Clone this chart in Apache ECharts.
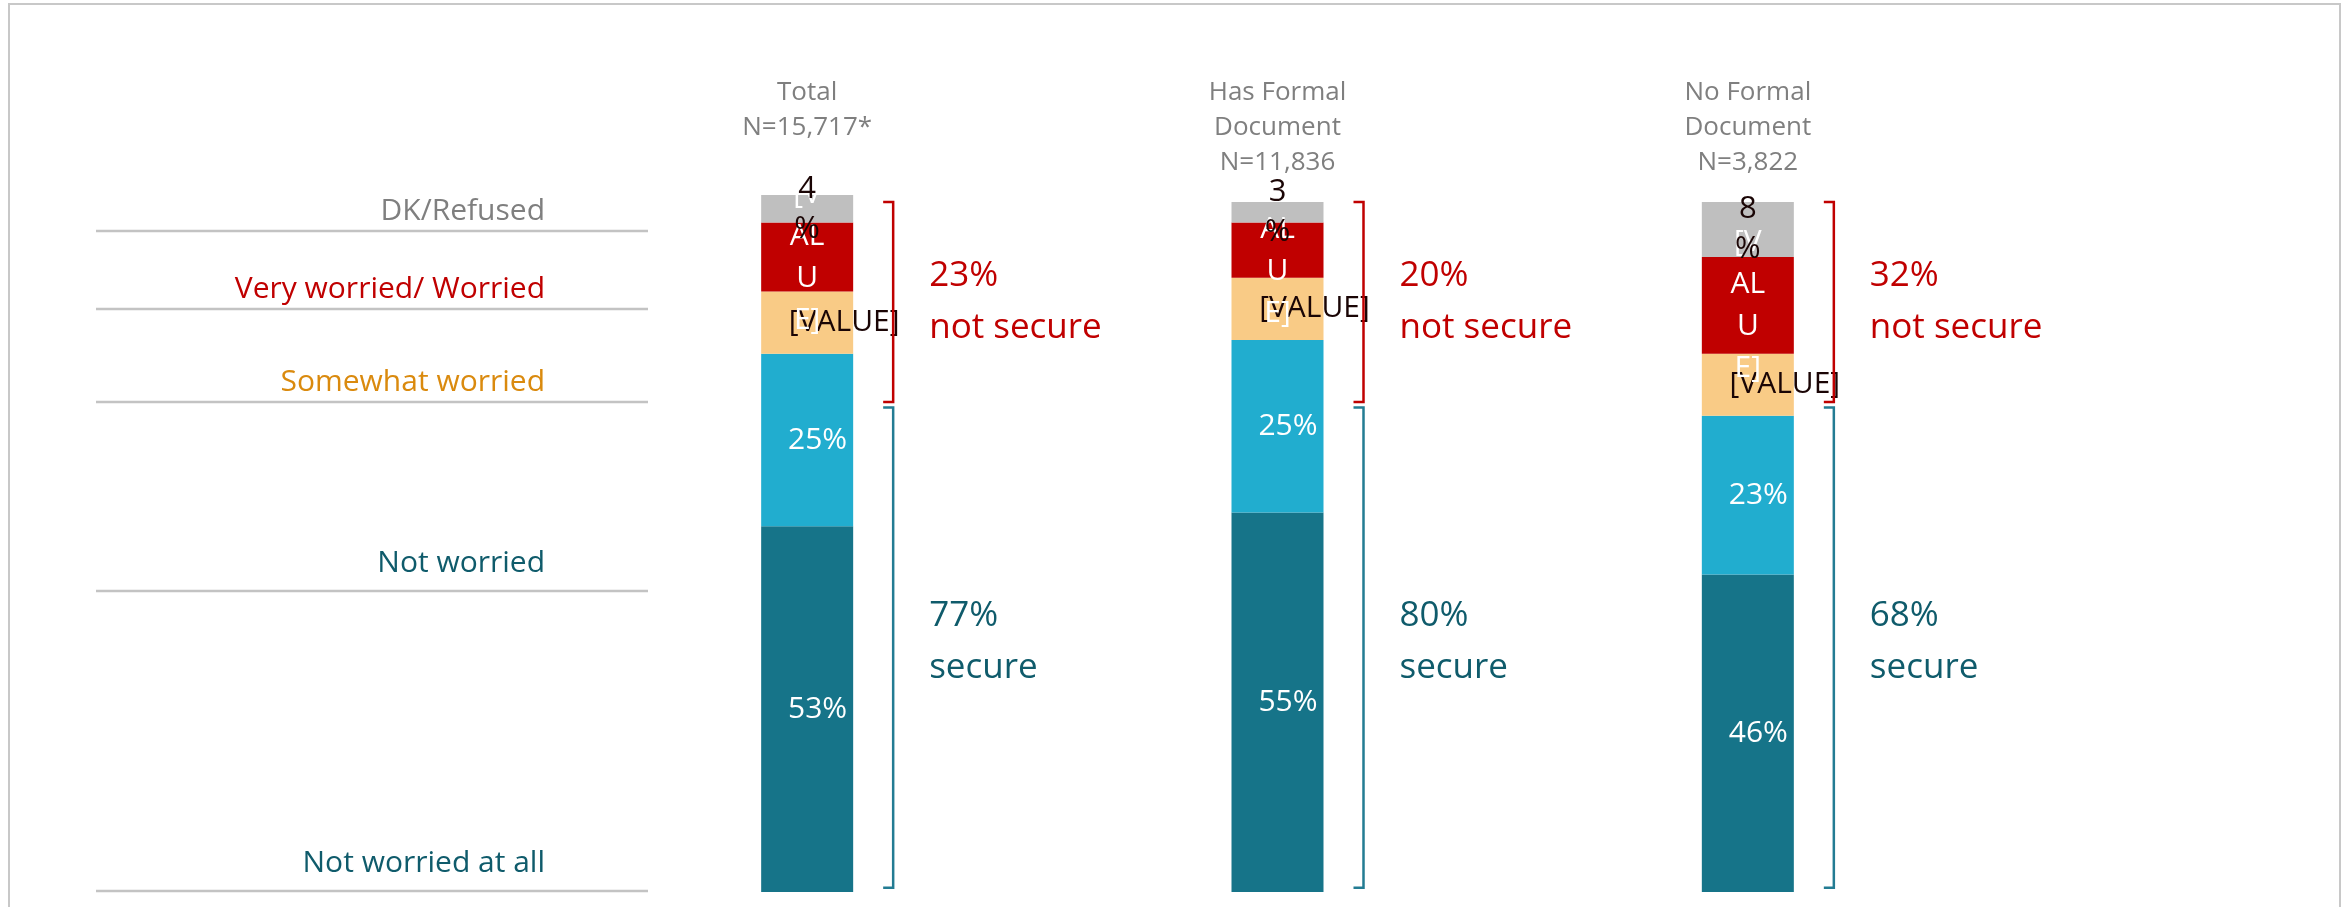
<!DOCTYPE html>
<html>
<head>
<meta charset="utf-8">
<script src="https://cdn.jsdelivr.net/npm/echarts@6/dist/echarts.min.js"></script>
<style>
    html, body { margin: 0; padding: 0; background: #fff; }
    #chart { width: 2347px; height: 907px; }
</style>
</head>
<body>
<div id="chart"></div>
<script>
    // groups (top labels)
    const categories = ['Total\nN=15,717*', 'Has Formal\nDocument\nN=11,836', 'No Formal\nDocument\nN=3,822'];
    // stacked from the bottom up
    const seriesNames = ['Not worried at all', 'Not worried', 'Somewhat worried', 'Very worried/ Worried', 'DK/Refused'];
    const notWorriedAtAll = [53, 55, 46];
    const notWorried = [25, 25, 23];
    const somewhatWorried = [9, 9, 9];
    const veryWorried = [10, 8, 14];
    const dkRefused = [4, 3, 8];
    // bracket summaries
    const notSecure = [23, 20, 32];
    const secure = [77, 80, 68];

    const colors = ['#167489', '#21adcf', '#f9cb86', '#c00000', '#bfbfbf'];
    const nameColors = ['#0f5b6b', '#0f5b6b', '#da8a0e', '#c00000', '#7f7f7f'];
    const FONT = '"Open Sans", "Noto Sans", sans-serif';

    let chart = echarts.init(document.getElementById('chart'));

    const barBase = {
        type: 'bar',
        stack: 'all',
        barWidth: 92,
        animation: false,
    };

    const series = [
        Object.assign({}, barBase, {
            name: seriesNames[0], data: notWorriedAtAll,
            itemStyle: {color: colors[0]},
            label: {show: true, position: 'insideRight', distance: 6, color: '#fff', fontSize: 30, fontFamily: FONT, formatter: '{c}%'}
        }),
        Object.assign({}, barBase, {
            name: seriesNames[1], data: notWorried,
            itemStyle: {color: colors[1]},
            label: {show: true, position: 'insideRight', distance: 6, color: '#fff', fontSize: 30, fontFamily: FONT, formatter: '{c}%'}
        }),
        Object.assign({}, barBase, {
            name: seriesNames[2], data: somewhatWorried,
            itemStyle: {color: colors[2]},
            // broken data label from the source
            label: {show: true, position: 'inside', offset: [37, 0], color: '#1a0505', fontSize: 30, fontFamily: FONT, formatter: '[VALUE]'}
        }),
        Object.assign({}, barBase, {
            name: seriesNames[3], data: veryWorried,
            itemStyle: {color: colors[3]},
            label: {show: true, position: 'inside', color: '#fff', fontSize: 30, lineHeight: 42, fontFamily: FONT, formatter: '[V\nAL\nU\nE]'}
        }),
        Object.assign({}, barBase, {
            name: seriesNames[4], data: dkRefused,
            itemStyle: {color: colors[4]},
            label: {show: true, position: 'inside', color: '#1a0505', fontSize: 31, lineHeight: 40, fontFamily: FONT, formatter: '{c}\n%'}
        }),
        {
            type: 'custom',
            animation: false,
            silent: true,
            z: 10,
            data: categories.map((c, i) => [i, notSecure[i], secure[i]]),
            encode: {x: 0},
            renderItem: function (params, api) {
                const cx = api.coord([api.value(0), 0])[0];
                const bx = cx + 46 + 40;
                const rTop = api.coord([0, 100])[1];
                const rBot = api.coord([0, 71])[1];
                const bTop = api.coord([0, 70.2])[1];
                const bBot = api.coord([0, 0.6])[1];
                const arm = 10;
                return {
                    type: 'group',
                    children: [
                        {
                            type: 'polyline',
                            shape: {points: [[bx - arm, rTop], [bx, rTop], [bx, rBot], [bx - arm, rBot]]},
                            style: {stroke: '#c00000', lineWidth: 2.5, fill: null}
                        },
                        {
                            type: 'polyline',
                            shape: {points: [[bx - arm, bTop], [bx, bTop], [bx, bBot], [bx - arm, bBot]]},
                            style: {stroke: '#237c93', lineWidth: 2.5, fill: null}
                        },
                        {
                            type: 'text',
                            style: {
                                text: api.value(1) + '%\nnot secure',
                                x: bx + 36, y: (rTop + rBot) / 2,
                                align: 'left', verticalAlign: 'middle',
                                fill: '#c00000', fontSize: 35, lineHeight: 52, fontFamily: FONT
                            }
                        },
                        {
                            type: 'text',
                            style: {
                                text: api.value(2) + '%\nsecure',
                                x: bx + 36, y: (bTop + bBot) / 2 - 6,
                                align: 'left', verticalAlign: 'middle',
                                fill: '#0f5b6b', fontSize: 35, lineHeight: 52, fontFamily: FONT
                            }
                        }
                    ]
                };
            }
        }
    ];

    // left-hand row labels with their rule lines
    const rowLines = [891, 591, 402, 309, 231];
    const graphics = [{
        type: 'rect',
        shape: {x: 9, y: 4, width: 2331, height: 950},
        style: {fill: null, stroke: '#c8c8c8', lineWidth: 2},
        silent: true
    }];
    seriesNames.forEach((name, i) => {
        graphics.push({
            type: 'line',
            shape: {x1: 96, y1: rowLines[i], x2: 648, y2: rowLines[i]},
            style: {stroke: '#c3c3c3', lineWidth: 2.5}
        });
        graphics.push({
            type: 'text',
            x: 545,
            y: rowLines[i] - (i < 2 ? 28 : 20),
            style: {
                text: name, align: 'right', verticalAlign: 'middle',
                fill: nameColors[i], fontSize: 30, fontFamily: FONT
            }
        });
    });

    const option = {
        backgroundColor: '#fff',
        animation: false,
        grid: {left: 572, right: 364, top: 195, bottom: 15, containLabel: false},
        xAxis: {
            type: 'category',
            position: 'top',
            data: categories,
            axisLine: {show: false},
            axisTick: {show: false},
            axisLabel: {
                interval: 0, margin: 120, verticalAlign: 'top',
                color: '#7f7f7f', fontSize: 26, lineHeight: 35, fontFamily: FONT
            }
        },
        yAxis: {
            type: 'value',
            min: 0,
            max: 101,
            show: false,
            splitLine: {show: false}
        },
        series: series,
        graphic: graphics
    };

    chart.setOption(option, true);
</script>
</body>
</html>
